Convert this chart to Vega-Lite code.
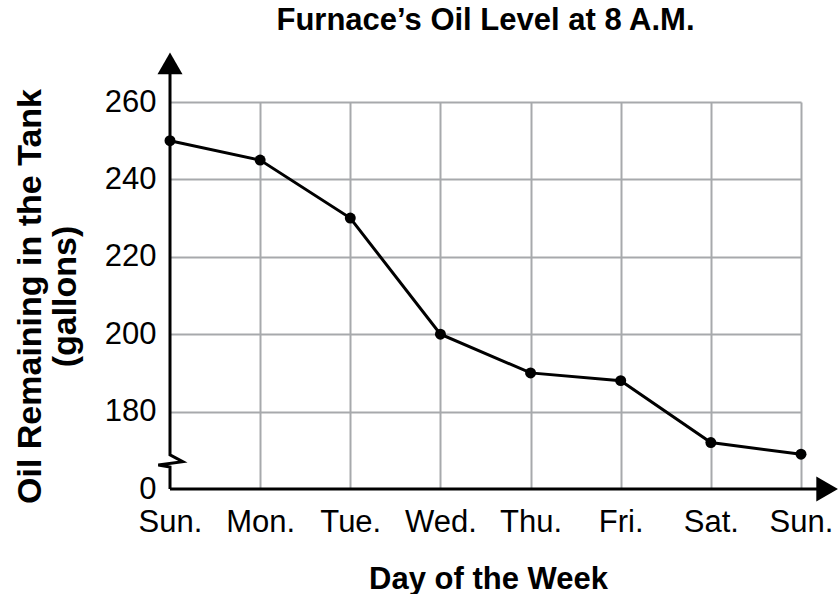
{
  "$schema": "https://vega.github.io/schema/vega-lite/v6.json",
  "width": 631,
  "height": 387,
  "autosize": {"type": "none"},
  "padding": {"left": 170, "top": 102, "right": 37, "bottom": 105},
  "background": "white",
  "config": {"view": {"stroke": null}, "font": "Liberation Sans"},
  "title": {
    "text": "Furnace’s Oil Level at 8 A.M.",
    "fontSize": 31,
    "fontWeight": "bold",
    "font": "Liberation Sans",
    "color": "black",
    "anchor": "middle",
    "frame": "group",
    "baseline": "alphabetic",
    "offset": 21,
    "dy": 30
  },
  "datasets": {
    "oil": [
      {"day": 0, "gallons": 250},
      {"day": 1, "gallons": 245},
      {"day": 2, "gallons": 230},
      {"day": 3, "gallons": 200},
      {"day": 4, "gallons": 190},
      {"day": 5, "gallons": 188},
      {"day": 6, "gallons": 172},
      {"day": 7, "gallons": 169}
    ],
    "yaxis": [
      {"order": 1, "x": 0, "y": 160},
      {"order": 2, "x": 0, "y": 165.7},
      {"order": 3, "x": -0.13, "y": 166.2},
      {"order": 4, "x": 0.141, "y": 167.05},
      {"order": 5, "x": 0, "y": 168.8},
      {"order": 6, "x": 0, "y": 268}
    ],
    "xaxis": [{"x": 0, "x2": 7.2, "y": 160}],
    "uparrow": [{"x": 0, "y": 270}],
    "rightarrow": [{"x": 7.29, "y": 160}]
  },
  "layer": [
    {
      "data": {"name": "oil"},
      "mark": {"type": "line", "color": "black", "strokeWidth": 3},
      "encoding": {
        "x": {
          "field": "day",
          "type": "quantitative",
          "scale": {"domain": [0, 7], "nice": false, "zero": false},
          "axis": {
            "values": [0, 1, 2, 3, 4, 5, 6, 7],
            "labelExpr": "['Sun.','Mon.','Tue.','Wed.','Thu.','Fri.','Sat.','Sun.'][datum.value]",
            "labelFont": "Liberation Sans",
            "labelFontSize": 31,
            "labelColor": "black",
            "labelPadding": 18,
            "labelFlush": false,
            "labelOverlap": false,
            "ticks": false,
            "tickSize": 0,
            "domain": false,
            "grid": true,
            "gridColor": "#a7a9ac",
            "gridWidth": 2,
            "gridOpacity": {"condition": {"test": "datum.value == 0", "value": 0}, "value": 1},
            "title": "Day of the Week",
            "titleFont": "Liberation Sans",
            "titleFontSize": 31,
            "titleFontWeight": "bold",
            "titleColor": "black",
            "titleX": 318,
            "titleY": 99,
            "titleAlign": "center",
            "titleBaseline": "alphabetic"
          }
        },
        "y": {
          "field": "gallons",
          "type": "quantitative",
          "scale": {"domain": [160, 260], "nice": false, "zero": false},
          "axis": {
            "values": [160, 170, 180, 190, 200, 210, 220, 230, 240, 250, 260],
            "labelExpr": "datum.value == 160 ? '0' : (datum.value % 20 == 0 ? datum.label : '')",
            "labelFont": "Liberation Sans",
            "labelFontSize": 31,
            "labelColor": "black",
            "labelPadding": 14,
            "labelFlush": false,
            "labelOverlap": false,
            "ticks": false,
            "tickSize": 0,
            "domain": false,
            "grid": true,
            "gridColor": "#a7a9ac",
            "gridWidth": 2,
            "gridOpacity": {"condition": {"test": "datum.value == 160", "value": 0}, "value": 1},
            "title": ["Oil Remaining in the Tank", "(gallons)"],
            "titleFont": "Liberation Sans",
            "titleFontSize": 34,
            "titleFontWeight": "bold",
            "titleColor": "black",
            "titleLineHeight": 35,
            "titleAngle": 270,
            "titleAlign": "center",
            "titleBaseline": "top",
            "titleX": -157,
            "titleY": 194
          }
        }
      }
    },
    {
      "data": {"name": "oil"},
      "mark": {"type": "point", "shape": "circle", "filled": true, "color": "black", "size": 120, "opacity": 1},
      "encoding": {
        "x": {"field": "day", "type": "quantitative"},
        "y": {"field": "gallons", "type": "quantitative"}
      }
    },
    {
      "data": {"name": "yaxis"},
      "mark": {"type": "line", "color": "black", "strokeWidth": 3, "clip": false},
      "encoding": {
        "x": {"field": "x", "type": "quantitative"},
        "y": {"field": "y", "type": "quantitative"},
        "order": {"field": "order", "type": "quantitative"}
      }
    },
    {
      "data": {"name": "xaxis"},
      "mark": {"type": "rule", "color": "black", "strokeWidth": 3},
      "encoding": {
        "x": {"field": "x", "type": "quantitative"},
        "x2": {"field": "x2"},
        "y": {"field": "y", "type": "quantitative"}
      }
    },
    {
      "data": {"name": "uparrow"},
      "mark": {"type": "point", "shape": "triangle-up", "filled": true, "color": "black", "size": 625, "opacity": 1},
      "encoding": {
        "x": {"field": "x", "type": "quantitative"},
        "y": {"field": "y", "type": "quantitative"}
      }
    },
    {
      "data": {"name": "rightarrow"},
      "mark": {"type": "point", "shape": "triangle-right", "filled": true, "color": "black", "size": 625, "opacity": 1},
      "encoding": {
        "x": {"field": "x", "type": "quantitative"},
        "y": {"field": "y", "type": "quantitative"}
      }
    }
  ]
}
